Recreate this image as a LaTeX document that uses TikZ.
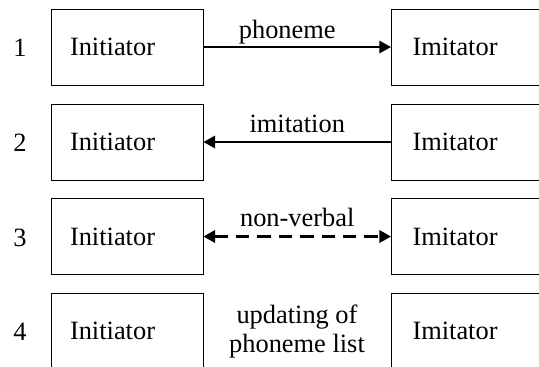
\documentclass[tikz,border=0pt]{standalone}
\usepackage{fontspec}
\setmainfont{Liberation Serif}
\usetikzlibrary{arrows.meta}
\begin{document}
\begin{tikzpicture}[x=0.5pt,y=-0.5pt,
  every node/.style={font=\fontsize{13.2}{14.5}\selectfont},
  lbox/.style={draw,line width=0.5pt,minimum height=38pt,text width=57pt,inner xsep=9.5pt,align=left},
  rbox/.style={draw,line width=0.5pt,minimum height=38pt,text width=63pt,inner xsep=10.5pt,align=left},
  num/.style={inner sep=0pt},
  tip/.style={},
  arr/.style={line width=1pt,-{Triangle[length=5.8pt,width=6.2pt]}},
  darr/.style={line width=1.1pt,dash pattern=on 6.7pt off 4pt,{Triangle[length=5.8pt,width=6.2pt]}-{Triangle[length=5.8pt,width=6.2pt]}},
  lab/.style={anchor=base,inner sep=0pt}]
\useasboundingbox (0,0) rectangle (539,366);
\clip (0,0) rectangle (539,366);
% row 1
\node[num] (n1) at (20,48) {1};
\node[lbox] (i1) at (127,47) {Initiator};
\node[rbox] (m1) at (475.5,47) {Imitator};
\draw[arr] (i1.east) -- (m1.west) node[lab,pos=0.5,xshift=-5pt,yshift=4.5pt] (l1) {phoneme};
% row 2
\node[num] (n2) at (20,143) {2};
\node[lbox] (i2) at (127,142) {Initiator};
\node[rbox] (m2) at (475.5,142) {Imitator};
\draw[arr] (m2.west) -- (i2.east) node[lab,pos=0.5,yshift=5pt] (l2) {imitation};
% row 3
\node[num] (n3) at (20,237.5) {3};
\node[lbox] (i3) at (127,236.5) {Initiator};
\node[rbox] (m3) at (475.5,236.5) {Imitator};
\draw[darr] (i3.east) -- (m3.west) node[lab,pos=0.5,yshift=5pt] (l3) {non-verbal};
% row 4
\node[num] (n4) at (20,332) {4};
\node[lbox] (i4) at (127,331) {Initiator};
\node[rbox] (m4) at (475.5,331) {Imitator};
\node[align=center,inner sep=0pt] (u4) at (297,331.5) {updating of\\phoneme list};
\end{tikzpicture}
\end{document}
